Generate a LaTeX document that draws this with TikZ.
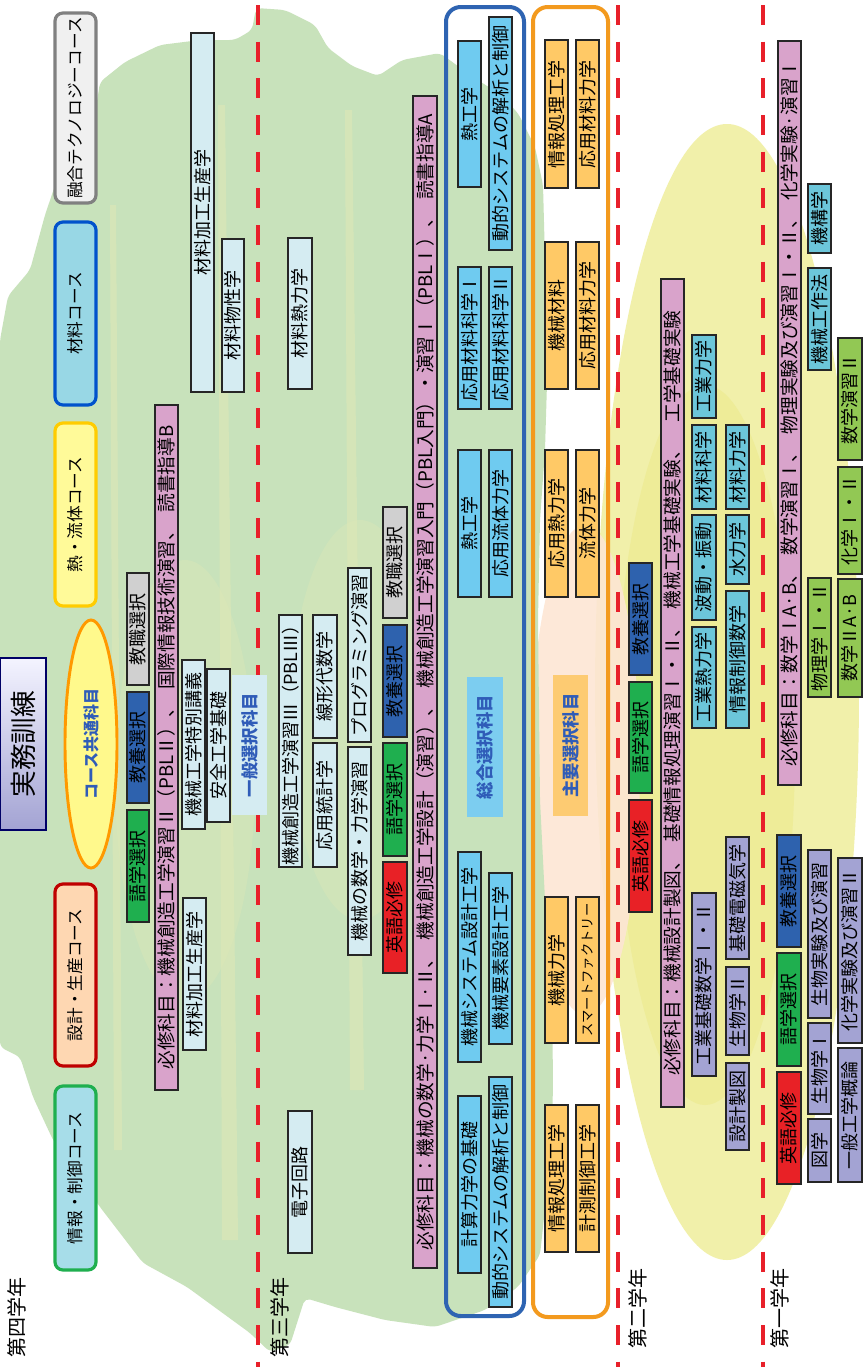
\documentclass[tikz,border=0pt]{standalone}
\usepackage{fontspec}
\newfontfamily\jp{Noto Sans CJK JP}
\usetikzlibrary{shapes.geometric}
\definecolor{bggreen}{HTML}{C8E2BB}
\definecolor{palestreak}{HTML}{DFE8B6}
\definecolor{yel}{HTML}{F1F0AA}
\definecolor{yeltwo}{HTML}{EEEC98}
\definecolor{peach}{HTML}{FDE6D4}
\definecolor{pinkb}{HTML}{D9A3CB}
\definecolor{lblue}{HTML}{D5ECF2}
\definecolor{sblue}{HTML}{6FCBF0}
\definecolor{sbluelab}{HTML}{7CCDF0}
\definecolor{cyanb}{HTML}{6CC6DA}
\definecolor{orangeb}{HTML}{FFC966}
\definecolor{orangelab}{HTML}{FDCB72}
\definecolor{purpb}{HTML}{A3A3D3}
\definecolor{greenb}{HTML}{92C854}
\definecolor{langg}{HTML}{1FAF4F}
\definecolor{kyob}{HTML}{2E62AE}
\definecolor{shokug}{HTML}{D0D0D0}
\definecolor{engr}{HTML}{E82126}
\definecolor{dashred}{HTML}{E8202A}
\definecolor{labblue}{HTML}{2F5CB8}
\definecolor{frameblue}{HTML}{2E64B2}
\definecolor{frameorange}{HTML}{F39A1E}
\newcommand{\bx}[7]{\node[cbox,#2,rotate=90,minimum width={((#6)-(#4))*0.75pt},minimum height={((#5)-(#3))*0.75pt}] (#1) at ({((#3)+(#5))/2},{((#4)+(#6))/2}) {#7};}
\begin{document}
\begin{tikzpicture}[x=0.75pt,y=-0.75pt,
  cbox/.style={draw=black!85,line width=0.9pt,inner sep=0pt,outer sep=0pt,font=\jp\fontsize{13.5}{14}\selectfont,text=black},
  pk/.style={fill=pinkb,font=\jp\fontsize{14}{15}\selectfont},
  lb/.style={fill=lblue},
  sb/.style={fill=sblue},
  cy/.style={fill=cyanb},
  ob/.style={fill=orangeb},
  pu/.style={fill=purpb},
  gb/.style={fill=greenb},
  lang/.style={fill=langg},
  kyo/.style={fill=kyob},
  shoku/.style={fill=shokug},
  eng/.style={fill=engr},
  lab/.style={draw=none,text=labblue,font=\jp\bfseries\fontsize{13}{14}\selectfont},
  course/.style={rounded corners=6pt,line width=2.4pt,font=\jp\fontsize{12.5}{13}\selectfont},
  yearlab/.style={rotate=90,font=\jp\fontsize{15}{16}\selectfont,inner sep=0pt},
  reddash/.style={draw=dashred,line width=3.6pt,dash pattern=on 15pt off 12.5pt},
  frame/.style={line width=3pt,rounded corners=11pt}
]
\useasboundingbox (0,0) rectangle (864,1367);
\fill[white] (0,0) rectangle (864,1367);
% background shapes
\fill[yel] (727,692) ellipse [x radius=132, y radius=568];
\fill[yeltwo] (705,745) ellipse [x radius=90, y radius=360];
\fill[peach,opacity=.9] (585,770) ellipse [x radius=55, y radius=245];
\fill[bggreen,rounded corners=4pt] (0,340) -- (8,296) -- (30,270) -- (45,215) -- (62,165) -- (95,115) -- (100,82) -- (125,62) -- (160,45) -- (200,40) -- (235,40) -- (252,30) -- (256,8) -- (285,10) -- (315,25) -- (328,48) -- (352,66) -- (378,76) -- (402,60) -- (440,53) -- (470,75) -- (498,93) -- (518,113) -- (535,147) -- (543,185) -- (545,260) -- (548,350) -- (545,450) -- (540,520) -- (538,620) -- (540,800) -- (545,900) -- (552,1000) -- (553,1080) -- (552,1143) -- (540,1255) -- (518,1287) -- (485,1310) -- (435,1327) -- (385,1320) -- (335,1307) -- (305,1298) -- (290,1345) -- (270,1352) -- (250,1333) -- (187,1287) -- (143,1263) -- (100,1207) -- (53,1140) -- (33,1097) -- (20,1057) -- (0,1047) -- cycle;
% pale streaks
\fill[palestreak,opacity=.6] (110,205) -- (116,205) -- (122,1150) -- (114,1150) -- cycle;
\fill[palestreak,opacity=.6] (218,105) -- (225,105) -- (238,1240) -- (222,1240) -- cycle;
\fill[palestreak,opacity=.6] (345,110) -- (352,110) -- (364,1090) -- (350,1090) -- cycle;
\fill[palestreak,opacity=.35] (360,720) ellipse [x radius=70, y radius=200];
\fill[palestreak,opacity=.35] (185,780) ellipse [x radius=70, y radius=220];
% red dashed year separators
\draw[reddash] (258,5) -- (258,1367);
\draw[reddash] (618,5) -- (618,1367);
\draw[reddash] (763,5) -- (763,1367);
% frames
\draw[frame,frameblue] (446,7) rectangle (524,1316);
\draw[frame,frameorange] (533,7) rectangle (608,1317);
% title and courses
\node[draw=black!60!blue,line width=0.9pt,rotate=90,top color=white!85!blue!30,bottom color=purpb,inner sep=0pt,minimum width={172*0.75pt},minimum height={46*0.75pt},font=\jp\fontsize{20}{21}\selectfont] (jitsumu) at (23,744) {実務訓練};
\bx{cfusion}{course,draw=gray,fill=black!6}{55}{13}{96}{203}{融合テクノロジーコース}
\bx{cmat}{course,draw=blue!60!cyan!80!black,fill=cyanb!70!white}{55}{222}{96}{405}{材料コース}
\bx{cheat}{course,draw=orange!40!yellow,fill=yellow!40}{55}{423}{96}{606}{熱・流体コース}
\bx{cdesign}{course,draw=red!75!black,fill=peach!60!orange!60!white}{55}{884}{96}{1066}{設計・生産コース}
\bx{cinfo}{course,draw=langg,fill=cyanb!60!white}{55}{1086}{96}{1270}{情報・制御コース}
\node[ellipse,draw=orange!80!yellow,line width=2.2pt,fill=yellow!45,rotate=90,inner sep=0pt,minimum width={248*0.75pt},minimum height={52*0.75pt},text=labblue,font=\jp\bfseries\fontsize{12}{13}\selectfont] (kyotsu) at (91,744) {コース共通科目};
% fourth year
\bx{yfa}{lang}{127}{810}{149}{922}{語学選択}
\bx{yfb}{kyo}{127}{692}{149}{803}{教養選択}
\bx{yfc}{shoku}{127}{573}{149}{685}{教職選択}
\bx{yfp}{pk}{155}{405}{178}{1090}{必修科目：機械創造工学演習Ⅱ（PBLⅡ）、\enspace 国際情報技術演習、\enspace 読書指導B}
\bx{yfd}{lb}{183}{898}{206}{1050}{材料加工生産学}
\bx{yfe}{lb}{182}{660}{205}{829}{機械工学特別講義}
\bx{yff}{lb}{207}{669}{230}{822}{安全工学基礎}
\bx{yfg}{lab,fill=lblue}{232}{675}{267}{815}{一般選択科目}
\bx{yfh}{lb}{191}{33}{214}{392}{材料加工生産学}
\bx{yfi}{lb}{222}{239}{244}{392}{材料物性学}
% third year
\bx{yta}{lb}{288}{238}{312}{389}{材料熱力学}
\bx{ytb}{lb}{288}{1111}{312}{1253}{電子回路}
\bx{ytc}{lb}{279}{615}{302}{867}{機械創造工学演習Ⅲ（PBLⅢ）}
\bx{ytd}{lb}{313}{743}{337}{867}{応用統計学}
\bx{yte}{lb}{313}{615}{337}{738}{線形代数学}
\bx{ytf}{lb}{348}{747}{371}{955}{機械の数学・力学演習}
\bx{ytg}{lb}{348}{568}{371}{742}{プログラミング演習}
\bx{yth}{eng}{383}{862}{407}{973}{英語必修}
\bx{yti}{lang}{383}{743}{407}{856}{語学選択}
\bx{ytj}{kyo}{383}{625}{407}{737}{教養選択}
\bx{ytk}{shoku}{383}{507}{407}{618}{教職選択}
\bx{ytp}{pk}{413}{96}{437}{1268}{必修科目：機械の数学·力学Ⅰ·Ⅱ、\enspace 機械創造工学設計（演習）、\enspace 機械創造工学演習入門（PBL入門）・演習Ⅰ（PBLⅠ）、\enspace 読書指導A}
\bx{ytl}{sb}{458}{41}{481}{187}{熱工学}
\bx{ytm}{sb}{489}{17}{512}{250}{動的システムの解析と制御}
\bx{ytn}{sb}{458}{267}{481}{409}{応用材料科学Ⅰ}
\bx{yto}{sb}{489}{267}{512}{409}{応用材料科学Ⅱ}
\bx{ytq}{sb}{458}{450}{481}{597}{熱工学}
\bx{ytr}{sb}{489}{450}{512}{597}{応用流体力学}
\bx{yts}{lab,fill=sbluelab}{467}{677}{503}{817}{総合選択科目}
\bx{ytt}{sb}{458}{852}{481}{1062}{機械システム設計工学}
\bx{ytu}{sb}{489}{873}{512}{1044}{機械要素設計工学}
\bx{ytv}{sb}{458}{1096}{481}{1273}{計算力学の基礎}
\bx{ytw}{sb}{489}{1077}{512}{1307}{動的システムの解析と制御}
\bx{ytx}{ob}{545}{40}{568}{188}{情報処理工学}
\bx{yty}{ob}{576}{40}{599}{188}{応用材料力学}
\bx{ytz}{ob}{545}{242}{568}{389}{機械材料}
\bx{ytA}{ob}{576}{242}{599}{389}{応用材料力学}
\bx{ytB}{ob}{545}{450}{568}{597}{応用熱力学}
\bx{ytC}{ob}{576}{450}{599}{597}{流体力学}
\bx{ytD}{lab,fill=orangelab}{553}{675}{588}{816}{主要選択科目}
\bx{ytE}{ob}{545}{897}{568}{1043}{機械力学}
\bx{ytF}{ob,font=\jp\fontsize{10}{11}\selectfont}{576}{897}{599}{1043}{スマートファクトリー}
\bx{ytG}{ob}{545}{1105}{568}{1252}{情報処理工学}
\bx{ytH}{ob}{576}{1105}{599}{1252}{計測制御工学}
% second year
\bx{ysa}{eng}{629}{800}{652}{912}{英語必修}
\bx{ysb}{lang}{629}{682}{652}{793}{語学選択}
\bx{ysc}{kyo}{629}{563}{652}{675}{教養選択}
\bx{ysp}{pk}{661}{279}{684}{1107}{必修科目：機械設計製図、\enspace 基礎情報処理演習Ⅰ・Ⅱ、\enspace 機械工学基礎実験、\quad 工学基礎実験}
\bx{ysd}{pu}{692}{893}{716}{1076}{工業基礎数学Ⅰ・Ⅱ}
\bx{yse}{cy}{692}{627}{716}{728}{工業熱力学}
\bx{ysf}{cy}{692}{515}{716}{620}{波動・振動}
\bx{ysg}{cy}{692}{425}{716}{509}{材料科学}
\bx{ysh}{cy}{692}{335}{716}{418}{工業力学}
\bx{ysi}{pu}{726}{837}{749}{959}{基礎電磁気学}
\bx{ysj}{pu}{726}{967}{749}{1055}{生物学Ⅱ}
\bx{ysk}{pu}{726}{1063}{749}{1150}{設計製図}
\bx{ysl}{cy}{726}{591}{749}{728}{情報制御数学}
\bx{ysm}{cy}{726}{515}{749}{584}{水力学}
\bx{ysn}{cy}{726}{425}{749}{509}{材料力学}
% first year
\bx{yop}{pk}{778}{41}{801}{785}{必修科目：数学ⅠA·B、\enspace 数学演習Ⅰ、\enspace 物理実験及び演習Ⅰ・Ⅱ、\enspace 化学実験·演習Ⅰ}
\bx{yoa}{cy}{808}{184}{831}{253}{機構学}
\bx{yob}{cy}{808}{268}{831}{370}{機械工作法}
\bx{yoc}{gb}{838}{338}{862}{460}{数学演習Ⅱ}
\bx{yod}{gb}{838}{467}{862}{574}{化学Ⅰ・Ⅱ}
\bx{yoe}{gb}{808}{578}{831}{697}{物理学Ⅰ・Ⅱ}
\bx{yof}{gb}{838}{579}{862}{697}{数学ⅡA·B}
\bx{yog}{kyo}{777}{835}{801}{947}{教養選択}
\bx{yoh}{lang}{777}{953}{801}{1066}{語学選択}
\bx{yoi}{eng}{777}{1072}{801}{1184}{英語必修}
\bx{yoj}{pu}{808}{850}{831}{1018}{生物実験及び演習}
\bx{yok}{pu}{808}{1023}{831}{1114}{生物学Ⅰ}
\bx{yol}{pu}{808}{1119}{831}{1182}{図学}
\bx{yom}{pu}{838}{858}{862}{1043}{化学実験及び演習Ⅱ}
\bx{yon}{pu}{838}{1048}{862}{1182}{一般工学概論}
% year labels
\node[yearlab] (g4) at (17,1317) {第四学年};
\node[yearlab] (g3) at (280,1317) {第三学年};
\node[yearlab] (g2) at (638,1308) {第二学年};
\node[yearlab] (g1) at (780,1308) {第一学年};
\end{tikzpicture}
\end{document}
